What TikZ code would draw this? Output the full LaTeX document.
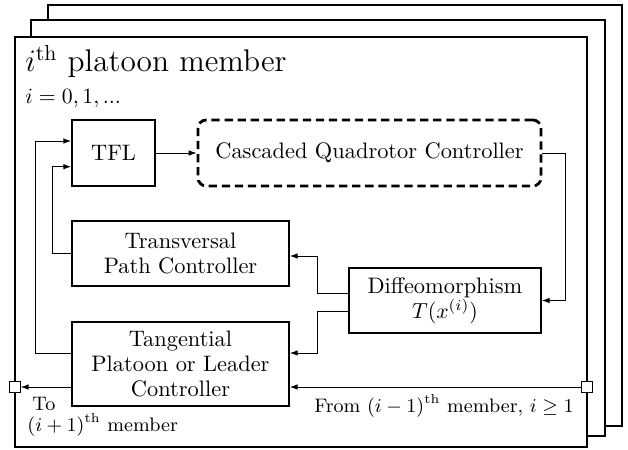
\documentclass[tikz,border=0pt]{standalone}
\usetikzlibrary{arrows.meta,calc}
\begin{document}
\begin{tikzpicture}[x=0.46pt,y=-0.46pt,
  frame/.style={draw=black,line width=0.9pt,fill=white},
  blk/.style={draw=black,line width=0.8pt,inner sep=0pt,align=center,fill=white,font=\fontsize{10.3pt}{11.6pt}\selectfont},
  dashblk/.style={draw=black,line width=1.3pt,dash pattern=on 3.8pt off 2.2pt,rounded corners=3.8pt,inner sep=0pt,align=center,font=\fontsize{10.3pt}{11.6pt}\selectfont},
  conn/.style={draw=black,line width=0.45pt,-{Latex[length=3.6pt,width=2.6pt]}},
  port/.style={draw=black,line width=0.45pt,fill=white,minimum size=4.8pt,inner sep=0pt},
  lbl/.style={inner sep=0pt,font=\small}]
\useasboundingbox (0,0) rectangle (628,449);

% stacked member frames
\draw[frame] (48,5) rectangle (622,426);
\draw[frame] (31,20) rectangle (605,436);
\draw[frame] (15,37) rectangle (587,447);

\node[anchor=base west,font=\Large,inner sep=0pt] (title) at (25,72) {$i^{\mathrm{th}}$ platoon member};
\node[anchor=base west,inner sep=0pt] (idx) at (25,103) {$i=0,1,...$};

% blocks
\node[blk,minimum width=38.2pt,minimum height=30.4pt] (tfl) at (113.5,153) {TFL};
\node[dashblk,minimum width=157.8pt,minimum height=30.4pt] (casc) at (369.5,153) {Cascaded Quadrotor Controller};
\node[blk,minimum width=99.8pt,minimum height=29.9pt] (trans) at (180.5,253.5) {Transversal\\Path Controller};
\node[blk,minimum width=88.3pt,minimum height=29.9pt] (diff) at (445,300.5) {Diffeomorphism\\$T(x^{(i)})$};
\node[blk,minimum width=99.8pt,minimum height=38.6pt] (tang) at (180.5,364) {Tangential\\Platoon or Leader\\Controller};

% ports on the frame
\node[port] (inp) at (587,387) {};
\node[port] (outp) at (15,387) {};

% signal paths
\draw[conn] (tfl.east) -- (casc.west);
\draw[conn] (casc.east) -- ++(23,0) |- (diff.east);
\draw[conn] ($(diff.west)+(0,-7.5)$) -- ++(-31,0) |- ($(trans.east)+(0,2.5)$);
\draw[conn] ($(diff.west)+(0,10.5)$) -- ++(-31,0) |- ($(tang.east)+(0,-11)$);
\draw[conn] (inp.west) -- (tang.east |- inp);
\draw[conn] (tang.west |- outp) -- (outp.east);
\draw[conn] ($(tang.west)+(0,-11)$) -- ++(-35.3,0) |- ($(tfl.west)+(0,-12)$);
\draw[conn] (trans.west) -- ++(-19,0) |- ($(tfl.west)+(0,13.7)$);

% port labels
\node[lbl,anchor=base] (fromlbl) at (444,412) {From $(i-1)^{\mathrm{th}}$ member, $i\geq 1$};
\node[lbl,anchor=base west] (tolbl) at (32,410) {To};
\node[lbl,anchor=base west] (nextlbl) at (27,431) {$(i+1)^{\mathrm{th}}$ member};
\end{tikzpicture}
\end{document}
